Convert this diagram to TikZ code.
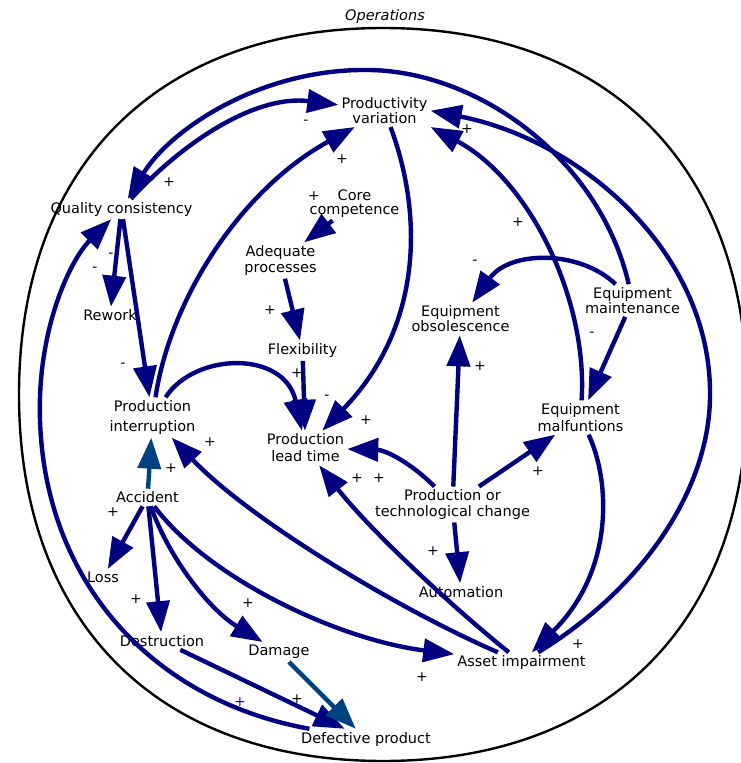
\documentclass[tikz,border=0pt]{standalone}
\usepackage{fontspec}
\setmainfont{DejaVu Sans}
\usetikzlibrary{arrows.meta}
\definecolor{cld}{RGB}{0,0,128}
\definecolor{cldb}{RGB}{0,66,128}
\definecolor{sgnb}{RGB}{0,0,255}
\begin{document}
\begin{tikzpicture}[x=1pt,y=-1pt,
  vn/.style={align=center, inner sep=3pt, font=\fontsize{14.5pt}{#1}\selectfont},
  vn/.default=16pt,
  sg/.style={inner sep=0pt, font=\fontsize{14pt}{14pt}\selectfont},
  arr/.style={draw=cld, line width=4.4pt, -{Triangle[length=31pt,width=23pt]}},
  arrb/.style={arr, draw=cldb},
  bound/.style={draw=black, line width=2.4pt}]
\useasboundingbox[fill=white] (0,0) rectangle (741,763);

% boundary (slightly squarish circle)
\draw[bound] (747,394.5) .. controls (747,167) and (609,28) .. (383,28)
  .. controls (157,28) and (19,167) .. (19,394.5)
  .. controls (19,622) and (157,761) .. (383,761)
  .. controls (609,761) and (747,622) .. (747,394.5) -- cycle;
\node[vn] (ops) at (385,16) {\textit{Operations}};

% variables
\node[vn=13.3pt] (pv) at (384.5,110.7) {Productivity\\variation};
\node[vn] (qc) at (121.5,209) {Quality consistency};
\node[vn=13.5pt] (core) at (354.5,203.7) {Core\\competence};
\node[vn=16pt] (adq) at (280.5,260.5) {Adequate\\processes};
\node[vn] (rew) at (110,315.5) {Rework};
\node[vn] (flex) at (302.5,350.7) {Flexibility};
\node[vn=12.5pt] (obs) at (460.5,319) {Equipment\\obsolescence};
\node[vn=12.7pt] (maint) at (632.5,300.5) {Equipment\\maintenance};
\node[vn=20pt] (pi) at (152.5,417.5) {Production\\interruption};
\node[vn=17pt] (plt) at (305.5,448) {Production\\lead time};
\node[vn=16.7pt] (malf) at (580.5,417.5) {Equipment\\malfuntions};
\node[vn] (acc) at (147.5,497.5) {Accident};
\node[vn=15.5pt] (ptc) at (452.5,504.5) {Production or\\technological change};
\node[vn] (loss) at (103,577.5) {Loss};
\node[vn] (auto) at (461,592) {Automation};
\node[vn] (des) at (162,641) {Destruction};
\node[vn] (dam) at (279,652) {Damage};
\node[vn] (ai) at (521.5,662.5) {Asset impairment};
\node[vn] (def) at (366,739) {Defective product};

% waypoints
\coordinate (w1) at (370,70);
\coordinate (w2) at (710,390);
\coordinate (w3) at (40,420);

% connectors
\draw[arr] (qc) .. controls (190,135) and (260,95) .. (pv);
\draw[arr] (maint) .. controls (600,160) and (480,72) .. (w1) .. controls (260,68) and (170,130) .. (qc);
\draw[arr] (ai) .. controls (640,590) and (712,490) .. (w2) .. controls (708,250) and (580,140) .. (pv.east);
\draw[arr] (malf) .. controls (588,300) and (530,180) .. (pv.south east);
\draw[arr] (maint) .. controls (580,250) and (510,250) .. (obs);
\draw[arr] (maint) -- (malf);
\draw[arr] (ptc) -- (obs);
\draw[arr] (ptc) -- (malf);
\draw[arr] (ptc) .. controls (410,462) and (385,450) .. (plt);
\draw[arr] (ptc) -- (auto);
\draw[arr] (malf) .. controls (610,480) and (615,570) .. (ai);
\draw[arr] (ai) .. controls (400,610) and (250,520) .. (pi);
\draw[arr] (ai) .. controls (450,605) and (370,530) .. (plt);
\draw[arrb] (acc) -- (pi);
\draw[arr] (acc) -- (loss);
\draw[arr] (acc) -- (des);
\draw[arr] (acc) .. controls (170,560) and (210,610) .. (dam);
\draw[arr] (acc) .. controls (210,580) and (340,640) .. (ai);
\draw[arr] (des) -- (def);
\draw[arrb] (dam) -- (def);
\draw[arr] (def) .. controls (150,700) and (45,580) .. (w3) .. controls (37,330) and (70,260) .. (qc);
\draw[arr] (qc) -- (rew);
\draw[arr] (qc) -- (pi);
\draw[arr] (pi) .. controls (170,300) and (240,190) .. (pv);
\draw[arr] (pi) .. controls (195,352) and (285,350) .. (plt);
\draw[arr] (flex) -- (plt);
\draw[arr] (adq) -- (flex);
\draw[arr] (core) -- (adq);
\draw[arr] (pv) .. controls (425,220) and (420,330) .. (plt);

% polarity signs
\node[sg] (s1) at (306,122) {-};
\node[sg] (s2) at (342,159) {+};
\node[sg] (s3) at (169,182) {+};
\node[sg] (s4) at (314,196) {+};
\node[sg] (s5) at (467,129) {+};
\node[sg] (s6) at (518,222) {+};
\node[sg] (s7) at (475,262) {-};
\node[sg] (s8) at (111,255) {-};
\node[sg] (s9) at (95,269) {-};
\node[sg] (s10) at (270,310) {+};
\node[sg] (s11) at (123,365) {-};
\node[sg] (s12) at (297,373) {+};
\node[sg] (s13) at (327,397) {-};
\node[sg] (s14) at (366,420) {+};
\node[sg] (s15) at (210,442) {+};
\node[sg] (s16) at (171,468) {+};
\node[sg] (s17) at (357,478) {+};
\node[sg] (s18) at (379,478) {+};
\node[sg] (s19) at (480,366) {+};
\node[sg] (s20) at (592,334) {-};
\node[sg] (s21) at (538,471) {+};
\node[sg] (s22) at (433,551) {+};
\node[sg] (s23) at (113,512) {+};
\node[sg] (s24) at (136,599) {+};
\node[sg] (s25) at (248,603) {+};
\node[sg] (s26) at (297,699) {+};
\node[sg, text=sgnb] (s27) at (240,702) {+};
\node[sg] (s28) at (422,677) {+};
\node[sg] (s29) at (578,644) {+};
\end{tikzpicture}
\end{document}
